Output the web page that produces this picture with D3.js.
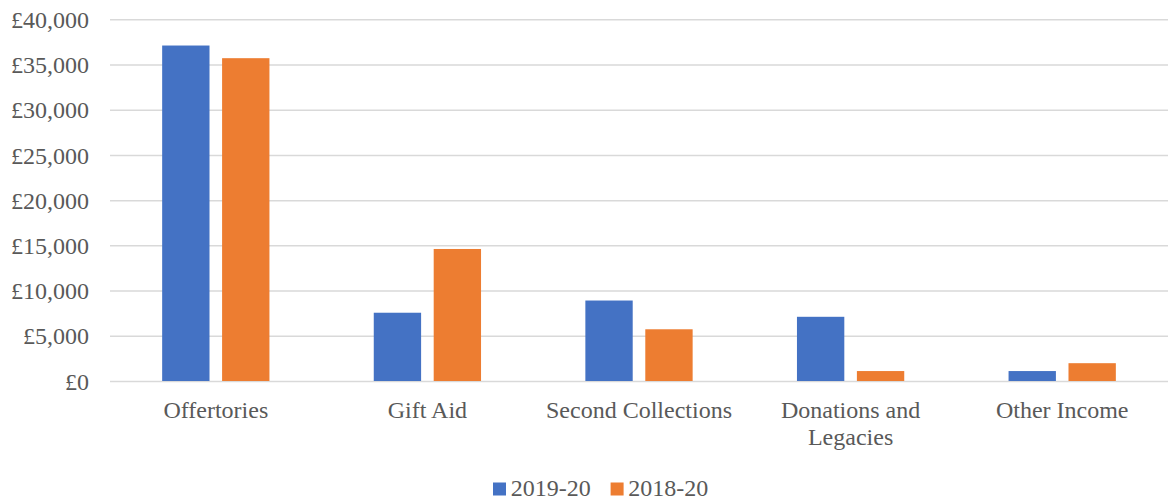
<!DOCTYPE html>
<html>
<head>
<meta charset="utf-8">
<script src="https://cdn.jsdelivr.net/npm/d3@7"></script>
<style>
  body { margin: 0; background: #fff; }
</style>
</head>
<body>
<svg id="chart" width="1168" height="502"></svg>
<script>
"use strict";

// chart data
const categories = ["Offertories", "Gift Aid", "Second Collections", "Donations and Legacies", "Other Income"];
const seriesNames = ["2019-20", "2018-20"];
const values2019 = [37100, 7550, 8900, 7100, 1100];
const values2018 = [35700, 14600, 5720, 1100, 1970];
const yTicks = [0, 5000, 10000, 15000, 20000, 25000, 30000, 35000, 40000];

const colors = {"2019-20": "#4472C4", "2018-20": "#ED7D31"};
const textColor = "#595959";
const fontFamily = "'Liberation Serif'";
const fontSize = "24px";

const svg = d3.select("#chart");
const plot = {left: 110, right: 1168, top: 19.3, bottom: 381};

const x = d3.scaleBand()
    .domain(categories)
    .range([plot.left, plot.right]);

const bw = x.bandwidth();
const x1 = d3.scaleBand()
    .domain(seriesNames)
    .range([bw * 0.2465, bw * 0.7535])
    .paddingInner(0.21);

const y = d3.scaleLinear()
    .domain([0, 40000])
    .range([plot.bottom, plot.top]);

function styleText(sel) {
    sel.style("font-family", fontFamily)
        .style("font-size", fontSize)
        .attr("fill", textColor);
}

// gridlines
const grid = svg.append("g")
    .attr("transform", "translate(" + plot.left + ",0)")
    .call(d3.axisRight(y).tickValues(yTicks).tickFormat("").tickSize(plot.right - plot.left));
grid.select(".domain").remove();
grid.selectAll("line")
    .attr("stroke", "#D9D9D9")
    .attr("stroke-width", 1.5);

// y axis labels
const fmt = d3.format(",");
const yAxis = svg.append("g")
    .attr("transform", "translate(" + (plot.left - 21) + ",0)")
    .call(d3.axisLeft(y).tickValues(yTicks).tickSize(0).tickPadding(0).tickFormat(d => "£" + fmt(d)));
yAxis.select(".domain").remove();
yAxis.selectAll("text")
    .call(styleText)
    .attr("dy", "0.34em");

// bars
const rows = categories.map((c, i) => ({cat: c, vals: [
    {key: seriesNames[0], v: values2019[i]},
    {key: seriesNames[1], v: values2018[i]}
]}));

const groups = svg.append("g").selectAll("g")
    .data(rows)
    .enter()
    .append("g")
    .attr("transform", d => "translate(" + x(d.cat) + ",0)");

groups.selectAll("rect")
    .data(d => d.vals)
    .enter()
    .append("rect")
    .attr("x", d => x1(d.key))
    .attr("width", x1.bandwidth())
    .attr("y", d => y(d.v))
    .attr("height", d => y(0) - y(d.v))
    .attr("fill", d => colors[d.key]);

// category labels
const xAxis = svg.append("g")
    .attr("transform", "translate(0," + plot.bottom + ")")
    .call(d3.axisBottom(x).tickSize(0).tickPadding(0));
xAxis.select(".domain").remove();
xAxis.selectAll("text")
    .call(styleText)
    .attr("y", 37)
    .attr("dy", 0)
    .each(function() { wrap(d3.select(this), bw - 10); });

function wrap(text, width) {
    const words = text.text().split(/\s+/);
    text.text(null);
    let line = [];
    let tspan = text.append("tspan").attr("x", 0).attr("dy", 0);
    words.forEach(w => {
        line.push(w);
        tspan.text(line.join(" "));
        if (tspan.node().getComputedTextLength() > width && line.length > 1) {
            line.pop();
            tspan.text(line.join(" "));
            line = [w];
            tspan = text.append("tspan").attr("x", 0).attr("dy", 27).text(w);
        }
    });
}

// legend
const legend = svg.append("g")
    .attr("transform", "translate(493,0)");
const legendX = [0, 117.6];
seriesNames.forEach((s, i) => {
    const g = legend.append("g").attr("transform", "translate(" + legendX[i] + ",0)");
    g.append("rect")
        .attr("x", 0)
        .attr("y", 482.5)
        .attr("width", 13)
        .attr("height", 13)
        .attr("fill", colors[s]);
    g.append("text")
        .attr("x", 17.7)
        .attr("y", 496)
        .call(styleText)
        .text(s);
});
</script>
</body>
</html>
